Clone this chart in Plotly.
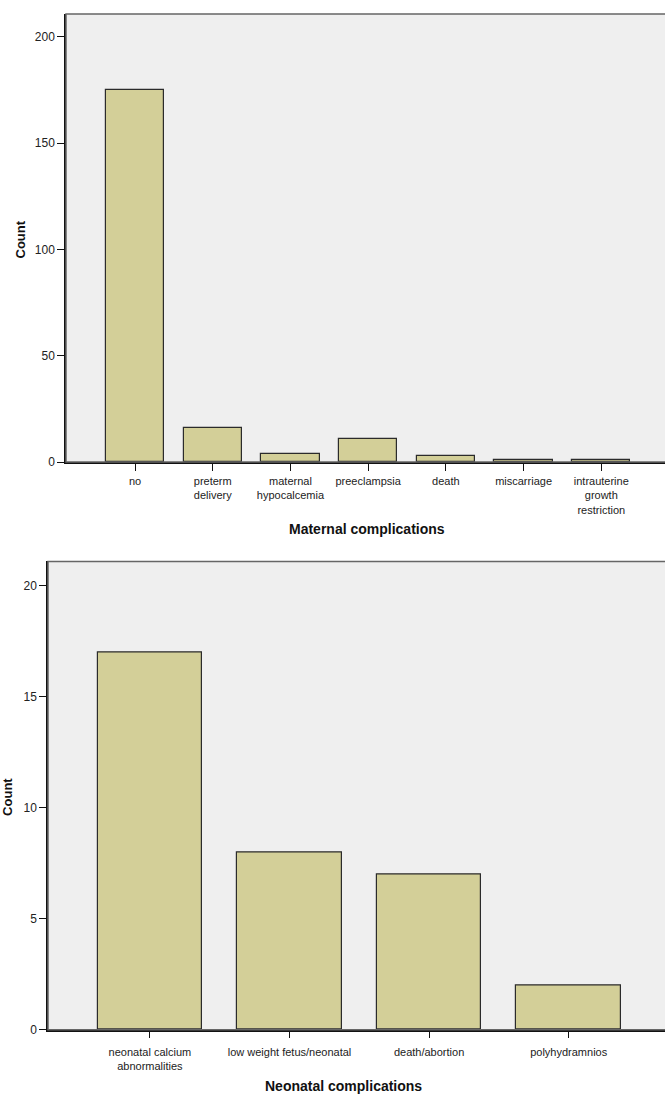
import plotly.graph_objects as go

maternal_cats = ["no", "preterm<br>delivery", "maternal<br>hypocalcemia", "preeclampsia",
                 "death", "miscarriage", "intrauterine<br>growth<br>restriction"]
maternal_counts = [175, 16, 4, 11, 3, 1, 1]

neonatal_cats = ["neonatal calcium<br>abnormalities", "low weight fetus/neonatal",
                 "death/abortion", "polyhydramnios"]
neonatal_counts = [17, 8, 7, 2]

W, H = 665, 1099
BAR_FILL = "#d3cf98"
BAR_LINE = "#2b2b2b"
BG = "#efefef"
FONT = "Liberation Sans, Arial, sans-serif"

def px_x(v):
    return v / W

def px_y(v):
    return 1 - v / H

fig = go.Figure()
fig.add_trace(go.Bar(x=list(range(len(maternal_cats))), y=maternal_counts, width=0.75,
                     marker=dict(color=BAR_FILL, line=dict(color=BAR_LINE, width=1.2)),
                     xaxis="x", yaxis="y", showlegend=False))
fig.add_trace(go.Bar(x=list(range(len(neonatal_cats))), y=neonatal_counts, width=0.75,
                     marker=dict(color=BAR_FILL, line=dict(color=BAR_LINE, width=1.2)),
                     xaxis="x2", yaxis="y2", showlegend=False))

tickfont = dict(family=FONT, size=11, color="#222")
ytickfont = dict(family=FONT, size=12, color="#222")
common_x = dict(showline=True, linecolor="#111", linewidth=1.5, ticks="outside", ticklen=7,
                tickcolor="#111", showgrid=False, zeroline=False, tickfont=tickfont, fixedrange=True)
common_y = dict(showline=True, linecolor="#111", linewidth=1.5, ticks="outside", ticklen=7,
                tickcolor="#111", showgrid=False, zeroline=False, tickfont=ytickfont, fixedrange=True)

fig.update_layout(
    width=W, height=H,
    margin=dict(l=0, r=0, t=0, b=0),
    paper_bgcolor="white",
    plot_bgcolor=BG,
    bargap=0,
    xaxis=dict(common_x, domain=[px_x(66), 1.0], anchor="y",
               range=[-0.888, 6.82], tickmode="array", ticklabelstandoff=1,
               tickvals=list(range(len(maternal_cats))), ticktext=maternal_cats),
    yaxis=dict(common_y, domain=[px_y(465), px_y(14)], anchor="x",
               range=[0, 210.7], tickvals=[0, 50, 100, 150, 200]),
    xaxis2=dict(common_x, domain=[px_x(48), 1.0], anchor="y2",
                range=[-0.73, 3.69], tickmode="array", ticklabelstandoff=4,
                tickvals=list(range(len(neonatal_cats))), ticktext=neonatal_cats),
    yaxis2=dict(common_y, domain=[px_y(1036.3), px_y(565)], anchor="x2",
                range=[0, 21.1], tickvals=[0, 5, 10, 15, 20]),
    shapes=[
        dict(type="rect", xref="paper", yref="paper", x0=px_x(66), x1=1.002,
             y0=px_y(465), y1=px_y(14), line=dict(color="#666", width=1.5), layer="above"),
        dict(type="rect", xref="paper", yref="paper", x0=px_x(48), x1=1.002,
             y0=px_y(1036.3), y1=px_y(565), line=dict(color="#666", width=1.5), layer="above"),
    ],
    annotations=[
        dict(text="<b>Count</b>", x=px_x(20), y=px_y(241), xref="paper", yref="paper",
             xanchor="center", yanchor="middle",
             textangle=-90, showarrow=False, font=dict(family=FONT, size=13, color="#111")),
        dict(text="<b>Maternal complications</b>", x=px_x(367), y=px_y(532), xref="paper", yref="paper",
             xanchor="center", yanchor="middle",
             showarrow=False, font=dict(family=FONT, size=14, color="#111")),
        dict(text="<b>Count</b>", x=px_x(8), y=px_y(802), xref="paper", yref="paper",
             xanchor="center", yanchor="middle",
             textangle=-90, showarrow=False, font=dict(family=FONT, size=13, color="#111")),
        dict(text="<b>Neonatal complications</b>", x=px_x(343), y=px_y(1093), xref="paper", yref="paper",
             xanchor="center", yanchor="middle",
             showarrow=False, font=dict(family=FONT, size=14, color="#111")),
    ],
)

fig.write_html("out.html", config={"displayModeBar": False},
               post_script="document.body.style.margin='0';document.body.style.overflow='hidden';")
